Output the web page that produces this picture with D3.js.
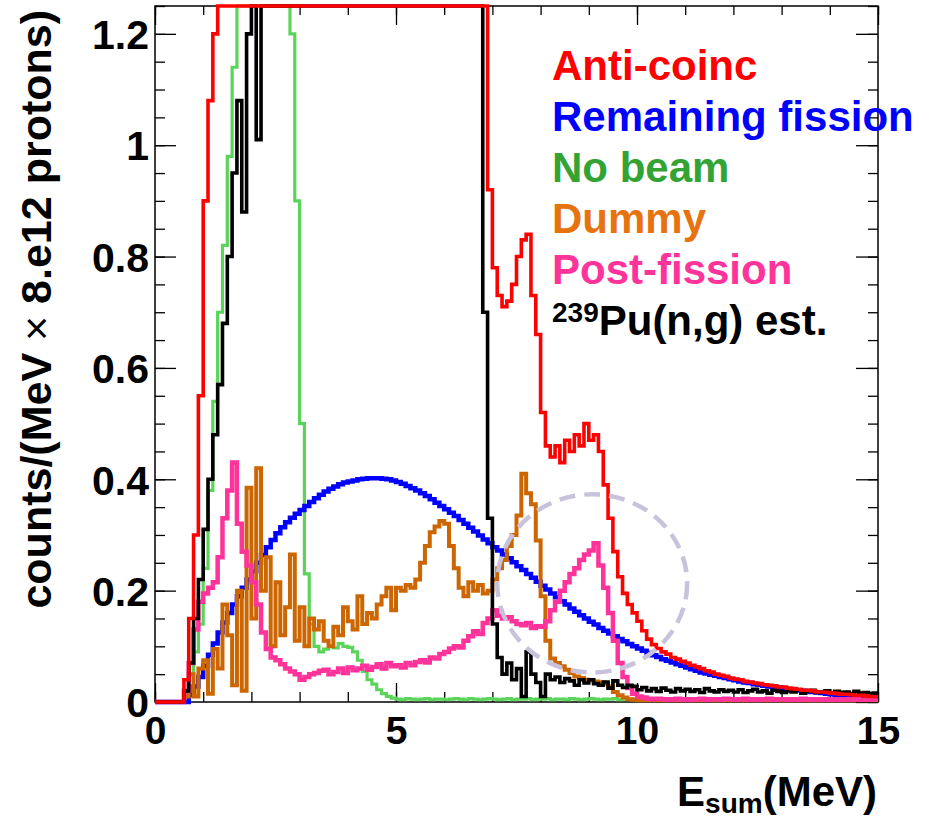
<!DOCTYPE html>
<html>
<head>
<meta charset="utf-8">
<script src="https://cdn.jsdelivr.net/npm/d3@7"></script>
<style>
  body { margin: 0; background: #fff; }
  svg { display: block; font-family: "Liberation Sans", Arial, Helvetica, sans-serif; font-weight: bold; }
</style>
</head>
<body>
<svg id="chart" width="932" height="821"></svg>
<script>
// histogram bins, 0.1 MeV wide, starting at 0 MeV (150 bins up to 15 MeV)
const binWidth = 0.1;

const antiCoinc = [
  0, 0, 0, 0, 0, 0, 0.04, 0.15, 0.3, 0.55,
  0.9, 1.08, 1.2, 1.3, 1.3, 1.3, 1.3, 1.3, 1.3, 1.3,
  1.3, 1.3, 1.3, 1.3, 1.3, 1.3, 1.3, 1.3, 1.3, 1.3,
  1.3, 1.3, 1.3, 1.3, 1.3, 1.3, 1.3, 1.3, 1.3, 1.3,
  1.3, 1.3, 1.3, 1.3, 1.3, 1.3, 1.3, 1.3, 1.3, 1.3,
  1.3, 1.3, 1.3, 1.3, 1.3, 1.3, 1.3, 1.3, 1.3, 1.3,
  1.3, 1.3, 1.3, 1.3, 1.3, 1.3, 1.3, 1.3, 1.3, 0.92,
  0.78, 0.73, 0.71, 0.72, 0.75, 0.8, 0.83, 0.84, 0.73, 0.66,
  0.52, 0.46, 0.44, 0.46, 0.43, 0.47, 0.45, 0.48, 0.46, 0.5,
  0.47, 0.48, 0.45, 0.39, 0.33, 0.27, 0.225, 0.195, 0.175, 0.16,
  0.145, 0.128, 0.113, 0.103, 0.096, 0.09, 0.086, 0.08, 0.077, 0.073,
  0.07, 0.066, 0.063, 0.06, 0.056, 0.054, 0.05, 0.048, 0.046, 0.043,
  0.041, 0.04, 0.037, 0.036, 0.034, 0.033, 0.031, 0.03, 0.029, 0.027,
  0.027, 0.025, 0.024, 0.023, 0.021, 0.021, 0.02, 0.018, 0.018, 0.017,
  0.016, 0.015, 0.014, 0.014, 0.013, 0.012, 0.012, 0.011, 0.01, 0.01
];

const remainingFission = [
  0, 0, 0, 0, 0, 0, 0, 0.012, 0.028, 0.045,
  0.065, 0.085, 0.105, 0.125, 0.143, 0.16, 0.175, 0.19, 0.205, 0.22,
  0.235, 0.25, 0.264, 0.278, 0.291, 0.303, 0.314, 0.323, 0.331, 0.338,
  0.345, 0.352, 0.359, 0.366, 0.372, 0.378, 0.383, 0.387, 0.391, 0.394,
  0.396, 0.398, 0.4, 0.401, 0.402, 0.402, 0.402, 0.401, 0.4, 0.398,
  0.395, 0.392, 0.388, 0.384, 0.38, 0.375, 0.37, 0.364, 0.358, 0.352,
  0.346, 0.34, 0.334, 0.327, 0.32, 0.313, 0.306, 0.299, 0.292, 0.285,
  0.278, 0.272, 0.265, 0.258, 0.251, 0.244, 0.237, 0.23, 0.223, 0.216,
  0.209, 0.202, 0.195, 0.188, 0.181, 0.175, 0.168, 0.162, 0.156, 0.15,
  0.144, 0.139, 0.133, 0.128, 0.123, 0.118, 0.113, 0.109, 0.104, 0.1,
  0.096, 0.092, 0.088, 0.084, 0.081, 0.077, 0.074, 0.071, 0.068, 0.065,
  0.062, 0.059, 0.056, 0.053, 0.051, 0.049, 0.047, 0.045, 0.043, 0.041,
  0.039, 0.037, 0.035, 0.034, 0.032, 0.031, 0.029, 0.028, 0.027, 0.026,
  0.024, 0.023, 0.022, 0.021, 0.02, 0.019, 0.018, 0.017, 0.016, 0.015,
  0.014, 0.013, 0.013, 0.012, 0.011, 0.011, 0.01, 0.009, 0.009, 0.008
];

const noBeam = [
  0, 0, 0, 0, 0, 0, 0.01, 0.05, 0.09, 0.14,
  0.24, 0.38, 0.54, 0.7, 0.82, 0.98, 1.14, 1.3, 1.3, 1.3,
  1.3, 1.3, 1.3, 1.3, 1.3, 1.3, 1.3, 1.3, 1.2, 0.9,
  0.5, 0.23, 0.14, 0.1, 0.09, 0.095, 0.1, 0.097, 0.105, 0.1,
  0.098, 0.09, 0.075, 0.055, 0.04, 0.032, 0.022, 0.015, 0.01, 0.007,
  0.005, 0.004, 0.006, 0.005, 0.004, 0.005, 0.006, 0.004, 0.005, 0.005,
  0.004, 0.005, 0.006, 0.005, 0.004, 0.006, 0.005, 0.004, 0.005, 0.006,
  0.005, 0.004, 0.005, 0.006, 0.004, 0.005, 0.005, 0.006, 0.004, 0.005,
  0.005, 0.006, 0.004, 0.005, 0.005, 0.004, 0.006, 0.005, 0.004, 0.005,
  0.006, 0.005, 0.004, 0.005, 0.005, 0.006, 0.004, 0.005, 0.005, 0.004,
  0.005, 0.006, 0.004, 0.005, 0.005, 0.004, 0.005, 0.006, 0.004, 0.005,
  0.005, 0.004, 0.006, 0.005, 0.004, 0.005, 0.005, 0.006, 0.004, 0.005,
  0.004, 0.005, 0.005, 0.006, 0.004, 0.005, 0.004, 0.005, 0.006, 0.004,
  0.005, 0.004, 0.005, 0.005, 0.006, 0.004, 0.005, 0.004, 0.005, 0.005,
  0.004, 0.005, 0.006, 0.004, 0.005, 0.004, 0.005, 0.005, 0.004, 0.005
];

const dummy = [
  0, 0, 0, 0, 0, 0, 0.01, 0.05, 0.01, 0.06,
  0.075, 0.015, 0.095, 0.06, 0.175, 0.12, 0.03, 0.2, 0.02, 0.385,
  0.15, 0.42, 0.2, 0.26, 0.1, 0.215, 0.12, 0.17, 0.265, 0.11,
  0.17, 0.1, 0.15, 0.13, 0.145, 0.11, 0.1, 0.135, 0.12, 0.17,
  0.145, 0.13, 0.19, 0.14, 0.16, 0.15, 0.175, 0.19, 0.205, 0.165,
  0.205, 0.2, 0.21, 0.205, 0.22, 0.25, 0.28, 0.305, 0.315, 0.325,
  0.32, 0.28, 0.24, 0.205, 0.19, 0.215, 0.2, 0.21, 0.195, 0.2,
  0.22, 0.24, 0.255, 0.28, 0.3, 0.335, 0.41, 0.375, 0.355, 0.29,
  0.19, 0.11, 0.078, 0.07, 0.064, 0.058, 0.052, 0.046, 0.043, 0.04,
  0.039, 0.037, 0.035, 0.033, 0.028, 0.018, 0.012, 0.008, 0.005, 0.004,
  0.003, 0.003, 0.003, 0.003, 0.003, 0.003, 0.003, 0.003, 0.003, 0.003,
  0.003, 0.003, 0.003, 0.003, 0.003, 0.003, 0.003, 0.003, 0.003, 0.003,
  0.003, 0.003, 0.003, 0.003, 0.003, 0.003, 0.003, 0.003, 0.003, 0.003,
  0.003, 0.003, 0.003, 0.003, 0.003, 0.003, 0.003, 0.003, 0.003, 0.003,
  0.003, 0.003, 0.003, 0.003, 0.003, 0.003, 0.003, 0.003, 0.003, 0.003
];

const postFission = [
  0, 0, 0, 0, 0, 0, 0.02, 0.07, 0.13, 0.18,
  0.195, 0.205, 0.215, 0.26, 0.33, 0.38, 0.43, 0.32, 0.27, 0.245,
  0.215, 0.175, 0.125, 0.095, 0.08, 0.075, 0.068, 0.06, 0.055, 0.05,
  0.04, 0.045, 0.05, 0.052, 0.056, 0.058, 0.05, 0.054, 0.06, 0.052,
  0.062, 0.057, 0.06, 0.065, 0.058, 0.063, 0.068, 0.06, 0.07, 0.064,
  0.066, 0.062, 0.07, 0.066, 0.072, 0.075, 0.071, 0.08, 0.078, 0.086,
  0.09, 0.096, 0.1, 0.098, 0.11, 0.118, 0.127, 0.122, 0.142, 0.15,
  0.165, 0.155, 0.15, 0.152, 0.145, 0.14, 0.138, 0.142, 0.133, 0.136,
  0.135, 0.145, 0.165, 0.18, 0.2, 0.215, 0.23, 0.24, 0.255, 0.265,
  0.272, 0.285, 0.245, 0.205, 0.16, 0.11, 0.07, 0.045, 0.025, 0.015,
  0.01, 0.008, 0.006, 0.005, 0.006, 0.005, 0.004, 0.005, 0.006, 0.004,
  0.005, 0.004, 0.005, 0.006, 0.004, 0.005, 0.005, 0.004, 0.006, 0.005,
  0.004, 0.005, 0.006, 0.004, 0.005, 0.004, 0.005, 0.006, 0.004, 0.005,
  0.005, 0.004, 0.005, 0.004, 0.006, 0.005, 0.004, 0.005, 0.004, 0.005,
  0.004, 0.005, 0.004, 0.005, 0.004, 0.005, 0.004, 0.004, 0.005, 0.004
];

const puEstimate = [
  0, 0, 0, 0, 0, 0, 0.02, 0.07, 0.15, 0.22,
  0.31, 0.4, 0.48, 0.57, 0.68, 0.8, 0.95, 1.08, 0.88, 1.2,
  1.3, 1.01, 1.3, 1.3, 1.3, 1.3, 1.3, 1.3, 1.3, 1.3,
  1.3, 1.3, 1.3, 1.3, 1.3, 1.3, 1.3, 1.3, 1.3, 1.3,
  1.3, 1.3, 1.3, 1.3, 1.3, 1.3, 1.3, 1.3, 1.3, 1.3,
  1.3, 1.3, 1.3, 1.3, 1.3, 1.3, 1.3, 1.3, 1.3, 1.3,
  1.3, 1.3, 1.3, 1.3, 1.3, 1.3, 1.3, 1.3, 0.7, 0.33,
  0.14, 0.08, 0.05, 0.07, 0.04, 0.06, 0.01, 0.09, 0.05, 0.035,
  0.01, 0.05, 0.04, 0.045, 0.035, 0.042, 0.038, 0.03, 0.04, 0.034,
  0.04, 0.033, 0.03, 0.036, 0.025, 0.038, 0.03, 0.026, 0.03, 0.028,
  0.022, 0.026, 0.02, 0.024, 0.019, 0.025, 0.021, 0.018, 0.024, 0.02,
  0.023, 0.019, 0.022, 0.017, 0.024, 0.02, 0.018, 0.022, 0.019, 0.021,
  0.018, 0.022, 0.017, 0.02, 0.023, 0.018, 0.02, 0.016, 0.021, 0.019,
  0.017, 0.02, 0.018, 0.022, 0.016, 0.019, 0.021, 0.017, 0.018, 0.02,
  0.016, 0.019, 0.017, 0.018, 0.015, 0.019, 0.016, 0.017, 0.015, 0.016
];

const xTicks = [0, 5, 10, 15];
const xTickLabels = ['0', '5', '10', '15'];
const yTicks = [0, 0.2, 0.4, 0.6, 0.8, 1, 1.2];
const yTickLabels = ['0', '0.2', '0.4', '0.6', '0.8', '1', '1.2'];

// dashed ellipse around the post-fission bump (data units)
const circleCenter = [9.07, 0.213];
const circleRadius = [1.97, 0.16];

const legendNames = ['Anti-coinc', 'Remaining fission', 'No beam', 'Dummy', 'Post-fission', 'Pu(n,g) est.'];
const legendColors = ['#ff0000', '#0000ff', '#33a333', '#e6730f', '#ff3399', '#000000'];

const width = 932;
const height = 821;
const plotLeft = 155, plotRight = 878, plotTop = 6, plotBottom = 702;

const svg = d3.select('#chart');
svg.append('rect').attr('width', width).attr('height', height).attr('fill', '#fff');

const xscale = d3.scaleLinear().domain([0, 15]).range([plotLeft, plotRight]);
const yscale = d3.scaleLinear().domain([0, 1.25]).range([plotBottom, plotTop]).clamp(true);

// ticks on all four sides, pointing inward
const xMinor = d3.range(0, 15.5, 1);
const yMinor = d3.range(0, 1.26, 0.05);

function tickAxis(axis, tr) {
  const g = svg.append('g').attr('transform', tr).call(axis);
  g.select('.domain').remove();
  g.selectAll('line').attr('stroke', '#000').attr('stroke-width', 1.3);
  return g;
}

tickAxis(d3.axisBottom(xscale).tickValues(xMinor).tickSize(-10).tickFormat(''), `translate(0,${plotBottom})`);
tickAxis(d3.axisTop(xscale).tickValues(xMinor).tickSize(-9).tickFormat(''), `translate(0,${plotTop})`);
tickAxis(d3.axisTop(xscale).tickValues(xTicks).tickSize(-19).tickFormat(''), `translate(0,${plotTop})`);
tickAxis(d3.axisLeft(yscale).tickValues(yMinor).tickSize(-10).tickFormat(''), `translate(${plotLeft},0)`);
tickAxis(d3.axisRight(yscale).tickValues(yMinor).tickSize(-10).tickFormat(''), `translate(${plotRight},0)`);
tickAxis(d3.axisRight(yscale).tickValues(yTicks).tickSize(-22).tickFormat(''), `translate(${plotRight},0)`);

const xAxisG = tickAxis(
  d3.axisBottom(xscale).tickValues(xTicks).tickSize(-19).tickPadding(14)
    .tickFormat((d, i) => xTickLabels[i]),
  `translate(0,${plotBottom})`);
xAxisG.selectAll('text').attr('font-size', 39).attr('font-weight', 'bold')
  .attr('font-family', '"Liberation Sans", Arial, sans-serif').attr('fill', '#000');

const yAxisG = tickAxis(
  d3.axisLeft(yscale).tickValues(yTicks).tickSize(-21).tickPadding(6)
    .tickFormat((d, i) => yTickLabels[i]),
  `translate(${plotLeft},0)`);
yAxisG.selectAll('text').attr('font-size', 41).attr('font-weight', 'bold').attr('dy', '0.36em')
  .attr('font-family', '"Liberation Sans", Arial, sans-serif').attr('fill', '#000');

// frame
svg.append('rect')
  .attr('x', plotLeft).attr('y', plotTop)
  .attr('width', plotRight - plotLeft).attr('height', plotBottom - plotTop)
  .attr('fill', 'none').attr('stroke', '#000').attr('stroke-width', 1.5);

// histograms
const drawOrder = [
  { values: noBeam, color: '#5ad55a', w: 3.2 },
  { values: remainingFission, color: '#0000ff', w: 4.5 },
  { values: dummy, color: '#cc6600', w: 4 },
  { values: postFission, color: '#ff3399', w: 4.5 },
  { values: puEstimate, color: '#000000', w: 3.6 },
  { values: antiCoinc, color: '#ff0000', w: 3.6 }
];

const histLine = d3.line()
  .x((d) => xscale(d[0]))
  .y((d) => yscale(d[1]))
  .curve(d3.curveStepAfter);

drawOrder.forEach((s) => {
  const pts = s.values.map((v, i) => [i * binWidth, v]);
  pts.push([s.values.length * binWidth, s.values[s.values.length - 1]]);
  svg.append('path')
    .datum(pts)
    .attr('d', histLine)
    .attr('fill', 'none')
    .attr('stroke', s.color)
    .attr('stroke-width', s.w)
    .attr('stroke-linejoin', 'miter');
});

// dashed ellipse
svg.append('ellipse')
  .attr('cx', xscale(circleCenter[0]))
  .attr('cy', yscale(circleCenter[1]))
  .attr('rx', xscale(circleRadius[0]) - xscale(0))
  .attr('ry', yscale(0) - yscale(circleRadius[1]))
  .attr('fill', 'none')
  .attr('stroke', '#c9c2dc')
  .attr('stroke-width', 4.5)
  .attr('stroke-dasharray', '16 9');

// legend
const legend = svg.append('g').attr('font-size', 42);
legendNames.forEach((name, i) => {
  const t = legend.append('text')
    .attr('x', 552)
    .attr('y', 80 + i * 51)
    .attr('fill', legendColors[i]);
  if (i === legendNames.length - 1) {
    t.append('tspan').attr('font-size', 28).attr('dy', -13).text('239');
    t.append('tspan').attr('dy', 13).text(name);
  } else {
    t.text(name);
  }
});

// axis titles
const xTitle = svg.append('text')
  .attr('x', 877).attr('y', 806)
  .attr('text-anchor', 'end')
  .attr('font-size', 42);
xTitle.append('tspan').text('E');
xTitle.append('tspan').attr('font-size', 28).attr('dy', 7).text('sum');
xTitle.append('tspan').attr('dy', -7).text('(MeV)');

const yTitle = svg.append('text')
  .attr('transform', 'translate(51,10) rotate(-90)')
  .attr('text-anchor', 'end')
  .attr('font-size', 43);
yTitle.append('tspan').text('counts/(MeV ');
yTitle.append('tspan').attr('font-weight', 'normal').text('×');
yTitle.append('tspan').text(' 8.e12 protons)');
</script>
</body>
</html>
